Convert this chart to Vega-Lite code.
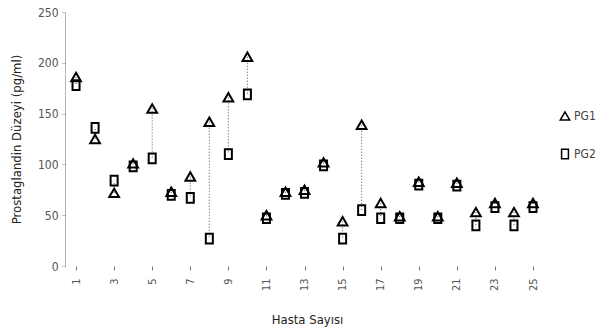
{
  "$schema": "https://vega.github.io/schema/vega-lite/v6.json",
  "autosize": "none",
  "width": 484,
  "height": 254,
  "padding": {"left": 65, "top": 12, "right": 65, "bottom": 69},
  "background": "white",
  "config": {
    "view": {"stroke": null},
    "font": "DejaVu Sans Condensed"
  },
  "data": {
    "values": [
      {"patient": 1, "series": "PG1", "value": 186}, {"patient": 1, "series": "PG2", "value": 178},
      {"patient": 2, "series": "PG1", "value": 125}, {"patient": 2, "series": "PG2", "value": 136},
      {"patient": 3, "series": "PG1", "value": 72}, {"patient": 3, "series": "PG2", "value": 84},
      {"patient": 4, "series": "PG1", "value": 101}, {"patient": 4, "series": "PG2", "value": 98},
      {"patient": 5, "series": "PG1", "value": 155}, {"patient": 5, "series": "PG2", "value": 106},
      {"patient": 6, "series": "PG1", "value": 73}, {"patient": 6, "series": "PG2", "value": 70},
      {"patient": 7, "series": "PG1", "value": 88}, {"patient": 7, "series": "PG2", "value": 67},
      {"patient": 8, "series": "PG1", "value": 142}, {"patient": 8, "series": "PG2", "value": 27},
      {"patient": 9, "series": "PG1", "value": 166}, {"patient": 9, "series": "PG2", "value": 110},
      {"patient": 10, "series": "PG1", "value": 206}, {"patient": 10, "series": "PG2", "value": 169},
      {"patient": 11, "series": "PG1", "value": 50}, {"patient": 11, "series": "PG2", "value": 47},
      {"patient": 12, "series": "PG1", "value": 73}, {"patient": 12, "series": "PG2", "value": 71},
      {"patient": 13, "series": "PG1", "value": 75}, {"patient": 13, "series": "PG2", "value": 72},
      {"patient": 14, "series": "PG1", "value": 102}, {"patient": 14, "series": "PG2", "value": 99},
      {"patient": 15, "series": "PG1", "value": 44}, {"patient": 15, "series": "PG2", "value": 27},
      {"patient": 16, "series": "PG1", "value": 139}, {"patient": 16, "series": "PG2", "value": 55},
      {"patient": 17, "series": "PG1", "value": 62}, {"patient": 17, "series": "PG2", "value": 47},
      {"patient": 18, "series": "PG1", "value": 49}, {"patient": 18, "series": "PG2", "value": 47},
      {"patient": 19, "series": "PG1", "value": 83}, {"patient": 19, "series": "PG2", "value": 80},
      {"patient": 20, "series": "PG1", "value": 49}, {"patient": 20, "series": "PG2", "value": 47},
      {"patient": 21, "series": "PG1", "value": 82}, {"patient": 21, "series": "PG2", "value": 79},
      {"patient": 22, "series": "PG1", "value": 53}, {"patient": 22, "series": "PG2", "value": 40},
      {"patient": 23, "series": "PG1", "value": 62}, {"patient": 23, "series": "PG2", "value": 58},
      {"patient": 24, "series": "PG1", "value": 53}, {"patient": 24, "series": "PG2", "value": 40},
      {"patient": 25, "series": "PG1", "value": 62}, {"patient": 25, "series": "PG2", "value": 58}
    ]
  },
  "layer": [
    {
      "transform": [{"pivot": "series", "value": "value", "groupby": ["patient"]}],
      "mark": {"type": "rule", "color": "#555", "strokeWidth": 1, "strokeDash": [1, 2]},
      "encoding": {
        "x": {"field": "patient", "type": "quantitative", "scale": {"domain": [0.42, 25.84], "nice": false, "zero": false}},
        "y": {"field": "PG1", "type": "quantitative"},
        "y2": {"field": "PG2"}
      }
    },
    {
      "mark": {"type": "point", "filled": false, "strokeWidth": 2, "opacity": 1, "size": 95},
      "encoding": {
        "x": {
          "field": "patient", "type": "quantitative",
          "scale": {"domain": [0.42, 25.84], "nice": false, "zero": false},
          "axis": {
            "title": "Hasta Sayısı",
            "titleFontSize": 13,
            "titleFontWeight": "normal",
            "titleColor": "#222",
            "titlePadding": 23,
            "values": [1,2,3,4,5,6,7,8,9,10,11,12,13,14,15,16,17,18,19,20,21,22,23,24,25],
            "labelExpr": "datum.value % 2 == 1 ? datum.label : ''",
            "labelAngle": -90,
            "labelFontSize": 11,
            "labelColor": "#555",
            "labelPadding": 8,
            "domain": false,
            "grid": false,
            "ticks": true,
            "tickSize": 4,
            "tickColor": "#777"
          }
        },
        "y": {
          "field": "value", "type": "quantitative",
          "scale": {"domain": [0, 250], "nice": false},
          "axis": {
            "title": "Prostaglandin Düzeyi (pg/ml)",
            "titleFontSize": 13,
            "titleFontWeight": "normal",
            "titleColor": "#222",
            "titlePadding": 14,
            "values": [0, 50, 100, 150, 200, 250],
            "labelFontSize": 12,
            "labelColor": "#555",
            "labelPadding": 3,
            "grid": false,
            "domain": true,
            "domainColor": "#666",
            "domainDash": [1, 1],
            "tickSize": 4,
            "tickColor": "#888",
            "tickDash": [1, 1]
          }
        },
        "shape": {
          "field": "series", "type": "nominal",
          "scale": {"domain": ["PG1", "PG2"], "range": ["triangle-up", "M-0.72,-1H0.72V1H-0.72Z"]},
          "legend": {
            "title": null,
            "orient": "none",
            "legendX": 494,
            "legendY": 98,
            "labelFontSize": 12,
            "labelColor": "#444",
            "symbolStrokeColor": "black",
            "symbolStrokeWidth": 1.5,
            "symbolFillColor": "white",
            "symbolSize": 90,
            "rowPadding": 22,
            "labelOffset": 3
          }
        },
        "color": {"value": "black"}
      }
    }
  ]
}
